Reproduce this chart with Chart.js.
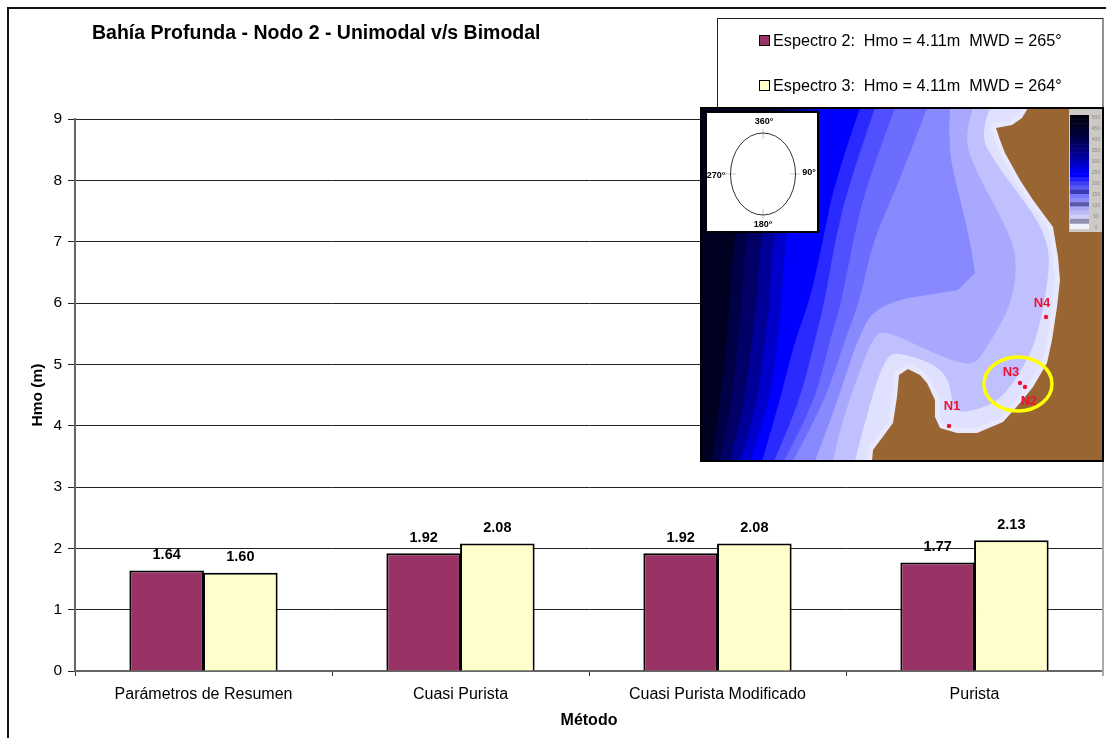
<!DOCTYPE html>
<html>
<head>
<meta charset="utf-8">
<title>Bahía Profunda - Nodo 2</title>
<script src="https://cdn.jsdelivr.net/npm/chart.js@4"></script>
<style>
    html, body { margin: 0; padding: 0; background: #fff; }
    #wrap { width: 1106px; height: 738px; }
</style>
</head>
<body>
<div id="wrap"><canvas id="myChart" width="1106" height="738"></canvas></div>
<script>
const chartTitle = 'Bahía Profunda - Nodo 2 - Unimodal v/s Bimodal';
const categories = ['Parámetros de Resumen', 'Cuasi Purista', 'Cuasi Purista Modificado', 'Purista'];
const espectro2 = [1.64, 1.92, 1.92, 1.77];
const espectro3 = [1.60, 2.08, 2.08, 2.13];
const seriesNames = ['Espectro 2:  Hmo = 4.11m  MWD = 265°', 'Espectro 3:  Hmo = 4.11m  MWD = 264°'];
const seriesColors = ['#993366', '#ffffcc'];
const yLabel = 'Hmo (m)';
const xLabel = 'Método';
const yMax = 9;

const fontName = '"Liberation Sans", Arial, sans-serif';

// bathymetry bands, deep to shallow; each one fills from its contour to the right edge
const depthBands = [
    ['#000044', [[775,108],[750,180],[733,240],[730,300],[727,340],[720,400],[712,461]]],
    ['#000066', [[785,108],[762,180],[745,240],[742,300],[738,340],[732,400],[720,461]]],
    ['#000099', [[797,108],[777,180],[760,240],[757,300],[752,340],[745,400],[730,461]]],
    ['#0000cc', [[808,108],[790,180],[772,240],[770,300],[765,340],[758,400],[740,461]]],
    ['#0000ff', [[818,108],[800,180],[785,240],[782,300],[778,340],[770,400],[750,461]]],
    ['#2a2aff', [[860,108],[835,180],[823,240],[810,300],[795,340],[780,400],[762,461]]],
    ['#5050ff', [[875,108],[850,180],[835,240],[825,300],[815,340],[800,400],[774,461]]],
    ['#6c6cff', [[895,108],[868,180],[853,240],[842,300],[830,340],[815,400],[784,461]]],
    ['#8888ff', [[927,108],[900,180],[873,240],[860,300],[845,340],[825,400],[793,461]]],
    ['#a8a8ff', [[950,108],[948,147],[957,187],[970,240],[975,273],[975,273],[958,290],[958,290],[877,303],[857,340],[838,400],[815,461]]],
    ['#c0c0ff', [[973,108],[963,137],[977,173],[1013,240],[1017,270],[1010,307],[993,337],[977,363],[963,364],[933,353],[885,330],[873,337],[855,383],[840,430],[833,461]]],
    ['#e0e0ff', [[990,108],[980,133],[993,160],[1033,213],[1047,240],[1050,270],[1037,340],[1020,373],[1000,400],[977,410],[953,413],[950,380],[933,363],[897,352],[887,357],[877,380],[862,433],[855,461]]]
];
const landShape = [[1028,108],[1022,118],[1012,125],[996,128],[1000,140],[1005,153],[1020,180],[1033,200],[1053,227],[1058,257],[1060,280],[1057,307],[1052,340],[1047,363],[1033,387],[1020,403],[1003,422],[977,433],[957,433],[940,428],[935,417],[935,400],[927,383],[920,375],[908,369],[899,375],[897,397],[893,423],[873,450],[872,461],[1103,461],[1103,108]];
const depthRamp = ['#000010','#000018','#000020','#00002c','#000038','#000048','#000058','#00006c','#000080','#000094','#0000a8','#0000c0','#0000d8','#0000f0','#0000ff','#2020ff','#4040f0','#5858f0','#3a3ab0','#7878ff','#8c8cf8','#5858a8','#a8a8f4','#bcbcf4','#d0d0f8','#9090b0'];
const depthTicks = ['500','450','400','350','300','250','200','150','100','50','0'];
const nodeMarks = [[949,426],[1046,317],[1020,383],[1025,387]];
const nodeNames = [['N1',952,406],['N4',1042,303],['N3',1011,372],['N2',1029,401]];
const compassMarks = [['360°',764,122],['180°',763,225],['270°',716,176],['90°',809,173]];

function tracePath(ctx, pts) {
    ctx.beginPath();
    pts.forEach((p, i) => i ? ctx.lineTo(p[0], p[1]) : ctx.moveTo(p[0], p[1]));
}

// contour through the midpoints of its vertices, so the bands come out rounded
function traceContour(ctx, pts) {
    ctx.beginPath();
    ctx.moveTo(pts[0][0], pts[0][1]);
    for (let i = 1; i < pts.length - 1; i++) {
        const mx = (pts[i][0] + pts[i + 1][0]) / 2;
        const my = (pts[i][1] + pts[i + 1][1]) / 2;
        ctx.quadraticCurveTo(pts[i][0], pts[i][1], mx, my);
    }
    const last = pts[pts.length - 1];
    ctx.lineTo(last[0], last[1]);
}

function drawMap(ctx) {
    ctx.save();
    ctx.beginPath();
    ctx.rect(701, 108, 403, 353);
    ctx.clip();
    ctx.fillStyle = '#000020';
    ctx.fillRect(701, 108, 403, 353);
    depthBands.forEach(([color, contour]) => {
        traceContour(ctx, contour);
        ctx.lineTo(1104, 461);
        ctx.lineTo(1104, 108);
        ctx.closePath();
        ctx.fillStyle = color;
        ctx.fill();
    });
    // pale fringe along the shore, then the land over it
    tracePath(ctx, landShape);
    ctx.closePath();
    ctx.strokeStyle = '#e8e8ff';
    ctx.lineWidth = 10;
    ctx.lineJoin = 'round';
    ctx.stroke();
    ctx.fillStyle = '#996633';
    ctx.fill();

    // depth scale
    ctx.fillStyle = '#cdc9c4';
    ctx.fillRect(1069, 109, 34, 123);
    const stripe = 108 / depthRamp.length;
    depthRamp.forEach((c, i) => {
        ctx.fillStyle = c;
        ctx.fillRect(1070, 115 + i * stripe, 19, stripe + 0.5);
    });
    ctx.fillStyle = '#f2f2ff';
    ctx.fillRect(1070, 224, 19, 5);
    ctx.fillStyle = '#8c8c8c';
    ctx.font = '5px ' + fontName;
    ctx.textAlign = 'center';
    ctx.textBaseline = 'middle';
    depthTicks.forEach((t, i) => ctx.fillText(t, 1096, 118 + i * 11));

    // node labels and the circled zone
    ctx.fillStyle = '#ee1133';
    nodeMarks.forEach(p => {
        ctx.beginPath();
        ctx.arc(p[0], p[1], 2.2, 0, Math.PI * 2);
        ctx.fill();
    });
    ctx.font = 'bold 13px ' + fontName;
    nodeNames.forEach(n => ctx.fillText(n[0], n[1], n[2]));
    ctx.strokeStyle = '#ffff00';
    ctx.lineWidth = 3.5;
    ctx.beginPath();
    ctx.ellipse(1018, 384, 34, 27, 0, 0, Math.PI * 2);
    ctx.stroke();

    // compass inset
    ctx.fillStyle = '#fff';
    ctx.fillRect(706, 112, 112, 120);
    ctx.strokeStyle = '#000';
    ctx.lineWidth = 2;
    ctx.strokeRect(706, 112, 112, 120);
    ctx.strokeStyle = '#c8c8c8';
    ctx.lineWidth = 1;
    ctx.beginPath();
    ctx.moveTo(763, 129); ctx.lineTo(763, 139);
    ctx.moveTo(763, 209); ctx.lineTo(763, 219);
    ctx.moveTo(725, 174); ctx.lineTo(736, 174);
    ctx.moveTo(790, 174); ctx.lineTo(800, 174);
    ctx.stroke();
    ctx.strokeStyle = '#333';
    ctx.beginPath();
    ctx.ellipse(763, 174, 32.5, 41, 0, 0, Math.PI * 2);
    ctx.stroke();
    ctx.fillStyle = '#000';
    ctx.font = 'bold 9px ' + fontName;
    compassMarks.forEach(m => ctx.fillText(m[0], m[1], m[2]));
    ctx.restore();

    ctx.strokeStyle = '#000';
    ctx.lineWidth = 2;
    ctx.strokeRect(701, 108, 402, 353);
}

const decorations = {
    id: 'decorations',
    beforeDraw(chart) {
        const ctx = chart.ctx;
        chart.titleBlock.left = 92;
        // sheet frame, open at the right and the bottom
        ctx.save();
        ctx.strokeStyle = '#111';
        ctx.lineWidth = 2;
        ctx.beginPath();
        ctx.moveTo(8, 738);
        ctx.lineTo(8, 8);
        ctx.lineTo(1106, 8);
        ctx.stroke();
        ctx.restore();
    },
    afterDatasetsDraw(chart) {
        const ctx = chart.ctx;
        ctx.save();
        ctx.fillStyle = '#000';
        ctx.font = 'bold 14.5px ' + fontName;
        ctx.textAlign = 'center';
        ctx.textBaseline = 'middle';
        chart.data.datasets.forEach((ds, i) => {
            chart.getDatasetMeta(i).data.forEach((bar, j) => {
                ctx.fillText(ds.data[j].toFixed(2), bar.x, bar.y - 15.5);
            });
        });
        ctx.restore();
    },
    afterDraw(chart) {
        const ctx = chart.ctx;
        const area = chart.chartArea;
        ctx.save();
        // right-hand axis edge
        ctx.strokeStyle = '#aaa';
        ctx.lineWidth = 2;
        ctx.beginPath();
        ctx.moveTo(area.right, area.top);
        ctx.lineTo(area.right, area.bottom + 5);
        ctx.stroke();

        // legend box
        ctx.fillStyle = '#fff';
        ctx.fillRect(718, 18, 385, 90);
        ctx.strokeStyle = '#222';
        ctx.lineWidth = 1;
        ctx.strokeRect(717.5, 18.5, 385.5, 90);
        ctx.font = '16.2px ' + fontName;
        ctx.textAlign = 'left';
        ctx.textBaseline = 'middle';
        chart.data.datasets.forEach((ds, i) => {
            const y = 41 + i * 45;
            ctx.fillStyle = ds.backgroundColor;
            ctx.fillRect(760, y - 5, 9, 9);
            ctx.strokeStyle = '#000';
            ctx.strokeRect(759.5, y - 5.5, 10, 10);
            ctx.fillStyle = '#000';
            ctx.fillText(ds.label, 773, y + 0.5);
        });
        ctx.restore();
        ctx.save();
        drawMap(ctx);
        ctx.restore();
    }
};

const ctx = document.getElementById('myChart').getContext('2d');
new Chart(ctx, {
    type: 'bar',
    data: {
        labels: categories,
        datasets: [
            { label: seriesNames[0], data: espectro2, backgroundColor: seriesColors[0], borderColor: '#000', borderWidth: 2 },
            { label: seriesNames[1], data: espectro3, backgroundColor: seriesColors[1], borderColor: '#000', borderWidth: 2 }
        ]
    },
    plugins: [decorations],
    options: {
        responsive: false,
        animation: false,
        devicePixelRatio: 1,
        layout: { padding: { left: 0, right: 3, top: 0, bottom: 0 } },
        datasets: { bar: { categoryPercentage: 0.5735, barPercentage: 1.012 } },
        plugins: {
            legend: { display: false },
            tooltip: { enabled: false },
            title: {
                display: true,
                text: chartTitle,
                align: 'start',
                color: '#000',
                font: { family: fontName, size: 19.5, weight: 'bold' },
                padding: { top: 22, bottom: 73.6 }
            }
        },
        scales: {
            x: {
                afterFit(scale) { scale.height = 67; },
                grid: { offset: true, drawOnChartArea: false, color: '#333', tickLength: 5, tickWidth: 1 },
                border: { color: '#666', width: 2 },
                ticks: { color: '#000', padding: 9, maxRotation: 0, font: { family: fontName, size: 16 } },
                title: {
                    display: true,
                    text: xLabel,
                    color: '#000',
                    font: { family: fontName, size: 16, weight: 'bold' },
                    padding: { top: 0, bottom: 8 }
                }
            },
            y: {
                min: 0,
                max: yMax,
                afterFit(scale) { scale.width = 75; },
                grid: { color: '#222', lineWidth: 1, tickLength: 7 },
                border: { color: '#666', width: 2 },
                ticks: { stepSize: 1, color: '#000', padding: 6, font: { family: fontName, size: 15.5 } },
                title: {
                    display: true,
                    text: yLabel,
                    color: '#000',
                    font: { family: fontName, size: 15.5, weight: 'bold' },
                    padding: { top: 28, bottom: 0 }
                }
            }
        }
    }
});
</script>
</body>
</html>
